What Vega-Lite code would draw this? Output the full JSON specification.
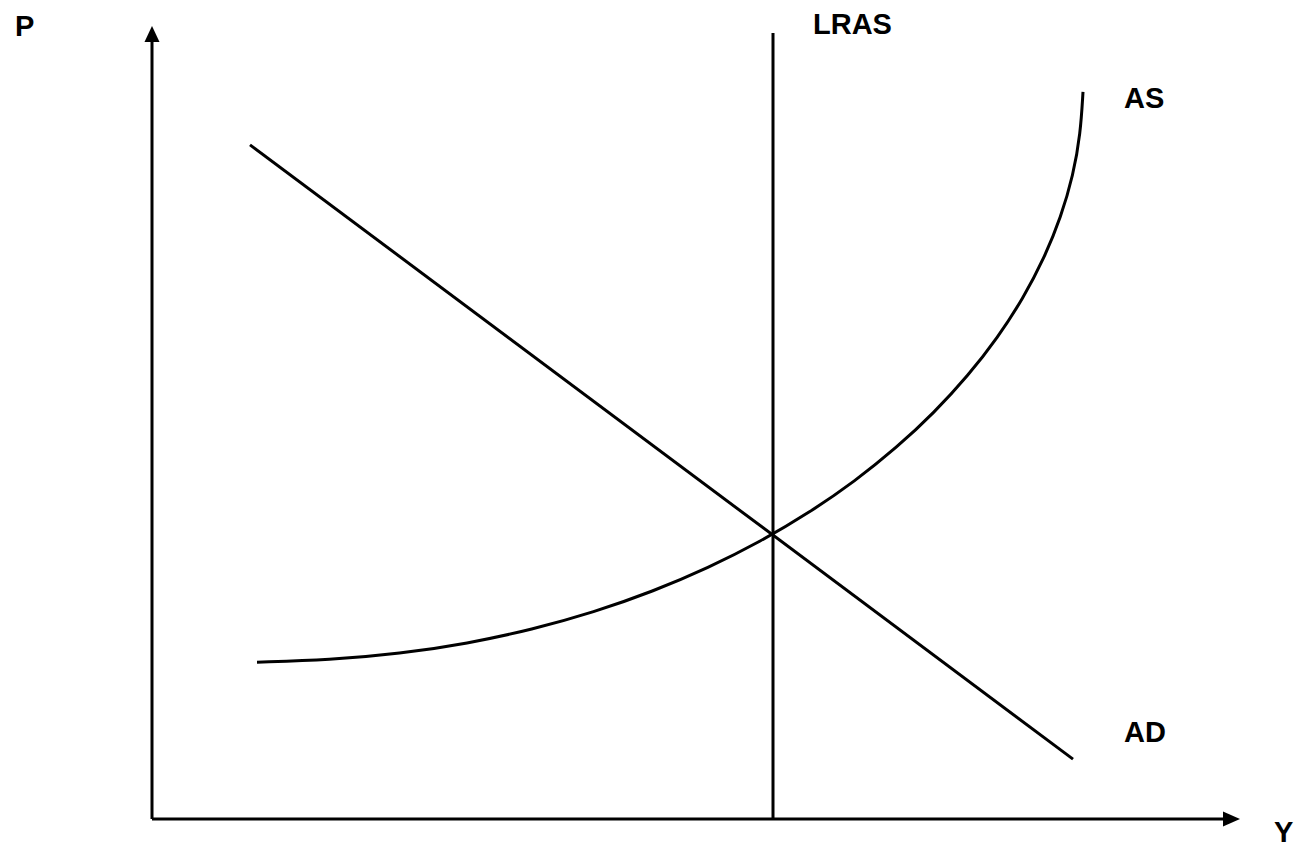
{
  "$schema": "https://vega.github.io/schema/vega-lite/v6.json",
  "width": 1298,
  "height": 848,
  "autosize": {"type": "fit", "contains": "padding"},
  "padding": 0,
  "background": "white",
  "config": {"view": {"stroke": null}},
  "datasets": {
    "as": [
      {"Y": 105, "P": 157}, {"Y": 177.7, "P": 159.2}, {"Y": 247.9, "P": 165.5}, {"Y": 315.5, "P": 175.7},
      {"Y": 380.2, "P": 189.7}, {"Y": 442, "P": 207.1}, {"Y": 500.8, "P": 227.8}, {"Y": 556.4, "P": 251.5},
      {"Y": 608.7, "P": 277.9}, {"Y": 657.6, "P": 306.9}, {"Y": 702.9, "P": 338.25}, {"Y": 744.5, "P": 371.7},
      {"Y": 782.2, "P": 406.9}, {"Y": 816, "P": 443.8}, {"Y": 845.8, "P": 482.1}, {"Y": 871.3, "P": 521.5},
      {"Y": 892.4, "P": 561.9}, {"Y": 909, "P": 602.9}, {"Y": 921.2, "P": 644.5}, {"Y": 928.5, "P": 686.2},
      {"Y": 931, "P": 728}
    ],
    "ad": [{"Y": 98, "P": 675}, {"Y": 921, "P": 60}],
    "rules": [
      {"name": "LRAS", "Y": 621, "Y2": 621, "P": 0, "P2": 787},
      {"name": "P axis", "Y": 0, "Y2": 0, "P": 0, "P2": 782},
      {"name": "Y axis", "Y": 0, "Y2": 1074, "P": 0, "P2": 0}
    ],
    "arrows": [
      {"dir": "up", "Y": 0, "P": 786},
      {"dir": "right", "Y": 1079.5, "P": 0}
    ],
    "labels": [
      {"label": "P", "Y": -137, "P": 784},
      {"label": "LRAS", "Y": 661, "P": 786},
      {"label": "AS", "Y": 972, "P": 712},
      {"label": "AD", "Y": 972, "P": 77},
      {"label": "Y", "Y": 1122, "P": -23}
    ]
  },
  "encoding": {
    "x": {"field": "Y", "type": "quantitative", "scale": {"domain": [-152, 1146], "nice": false, "zero": false}, "axis": null},
    "y": {"field": "P", "type": "quantitative", "scale": {"domain": [-28, 820], "nice": false, "zero": false}, "axis": null}
  },
  "layer": [
    {
      "data": {"name": "rules"},
      "mark": {"type": "rule", "color": "black", "strokeWidth": 3, "strokeCap": "butt"},
      "encoding": {"x2": {"field": "Y2"}, "y2": {"field": "P2"}}
    },
    {
      "data": {"name": "ad"},
      "mark": {"type": "line", "color": "black", "strokeWidth": 3, "strokeCap": "butt"},
      "encoding": {}
    },
    {
      "data": {"name": "as"},
      "mark": {"type": "line", "color": "black", "strokeWidth": 3, "strokeCap": "butt", "interpolate": "basis"},
      "encoding": {}
    },
    {
      "data": {"name": "arrows"},
      "transform": [{"filter": "datum.dir === 'up'"}],
      "mark": {"type": "point", "filled": true, "color": "black", "opacity": 1, "shape": "M0,-1L-0.94,1L0.94,1Z", "size": 256, "strokeWidth": 0}
    },
    {
      "data": {"name": "arrows"},
      "transform": [{"filter": "datum.dir === 'right'"}],
      "mark": {"type": "point", "filled": true, "color": "black", "opacity": 1, "shape": "M1,0L-1,-0.88L-1,0.88Z", "size": 289, "strokeWidth": 0}
    },
    {
      "data": {"name": "labels"},
      "mark": {"type": "text", "font": "Liberation Sans", "fontWeight": "bold", "fontSize": 29, "align": "left", "baseline": "alphabetic", "color": "black"},
      "encoding": {"text": {"field": "label"}}
    }
  ]
}
